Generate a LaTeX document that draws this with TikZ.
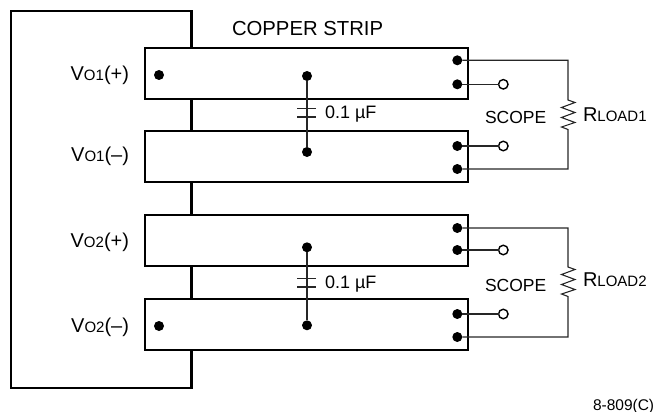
\documentclass[tikz,border=0pt]{standalone}
\usepackage{fontspec}
\setmainfont{Liberation Sans}
\usetikzlibrary{calc}
\newcommand{\sml}[1]{{\fontsize{15}{15}\selectfont #1}}
\tikzset{
  strip/.style={draw=black,fill=white,line width=2.2pt,minimum width=323pt,anchor=north west,inner sep=0pt,outer sep=0pt},
  fatdot/.style={circle,fill=black,minimum size=10pt,inner sep=0pt,outer sep=0pt},
  opendot/.style={circle,draw=black,fill=white,line width=1.4pt,minimum size=9.5pt,inner sep=0pt,outer sep=0pt},
  wire/.style={line width=1.1pt,draw=black!85},
  plate/.style={line width=1.1pt,draw=black!85},
  loopline/.style={line width=2.2pt,draw=black},
  lbl/.style={anchor=base east,inner sep=0pt,outer sep=0pt,font=\fontsize{20}{20}\selectfont},
  txt/.style={anchor=base west,inner sep=0pt,outer sep=0pt}
}
\begin{document}
\begin{tikzpicture}[x=1pt,y=-1pt]
\useasboundingbox (0,0) rectangle (656,412);
% copper loop, running behind the strips
\coordinate (la) at (191.5,60);
\coordinate (lb) at (191.5,11);
\coordinate (lc) at (11,11);
\coordinate (ld) at (11,388);
\coordinate (le) at (191.5,388);
\draw[loopline] (la) -- (lb) -- (lc) -- (ld) -- (le) -- cycle;
% strips
\node[strip,minimum height=51pt] (s1) at (145,47.7) {};
\node[strip,minimum height=51pt] (s2) at (145,131) {};
\node[strip,minimum height=51pt] (s3) at (145,215) {};
\node[strip,minimum height=51pt] (s4) at (145,299) {};
% left dots
\node[fatdot] (d1) at (159,75) {};
\node[fatdot] (d4) at (159,326) {};
% capacitors
\node[fatdot] (c1a) at (307,76) {};
\node[fatdot] (c1b) at (307,152) {};
\node[fatdot] (c2a) at (307,247.3) {};
\node[fatdot] (c2b) at (307,325.3) {};
\draw[wire] (c1a) -- (c1b);
\draw[wire] (c2a) -- (c2b);
\coordinate (p1l) at (297,108.7); \coordinate (p1r) at (316,108.7);
\coordinate (p2l) at (297,117);   \coordinate (p2r) at (316,117);
\coordinate (p3l) at (297,278.7); \coordinate (p3r) at (316,278.7);
\coordinate (p4l) at (297,287);   \coordinate (p4r) at (316,287);
\draw[plate] (p1l) -- (p1r);
\draw[plate] (p2l) -- (p2r);
\draw[plate] (p3l) -- (p3r);
\draw[plate] (p4l) -- (p4r);
% right dots and open terminals
\foreach \n/\y in {a/60.3,b/84.3,c/146,d/169,e/228,f/250,g/314,h/337}{
  \node[fatdot] (r\n) at (457.3,\y) {};
}
\node[opendot] (oa) at (503.3,84.3) {};
\node[opendot] (oc) at (503.3,146) {};
\node[opendot] (of) at (503.3,250) {};
\node[opendot] (og) at (503.3,314) {};
\draw[wire] (rb) -- (oa);
\draw[wire] (rc) -- (oc);
\draw[wire] (rf) -- (of);
\draw[wire] (rg) -- (og);
% load resistors
\coordinate (t1) at (568,60.3);
\coordinate (b1) at (568,169);
\coordinate (t2) at (568,228);
\coordinate (b2) at (568,337);
\draw[wire,line join=miter] (ra) -- (t1) -- (568,100) -- (575,102.5) -- (561.5,107.5) -- (575,112.5) -- (561.5,117.5) -- (575,122.5) -- (561.5,127) -- (568,129.5) -- (b1) -- (rd);
\draw[wire,line join=miter] (re) -- (t2) -- (568,267) -- (575,269.5) -- (561.5,274.5) -- (575,279.5) -- (561.5,284.5) -- (575,289.5) -- (561.5,294) -- (568,296.5) -- (b2) -- (rh);
% labels
\node[lbl] (v1p) at (129,81) {V\sml{O1}(+)};
\node[lbl] (v1m) at (129,161) {V\sml{O1}(–)};
\node[lbl] (v2p) at (129,247) {V\sml{O2}(+)};
\node[lbl] (v2m) at (129,332) {V\sml{O2}(–)};
\node[txt,font=\fontsize{20.3}{20.3}\selectfont] (cs) at (232,36) {COPPER STRIP};
\node[txt,font=\fontsize{18}{18}\selectfont] (cv1) at (325,118) {0.1 µF};
\node[txt,font=\fontsize{18}{18}\selectfont] (cv2) at (325,288.5) {0.1 µF};
\node[txt,font=\fontsize{17.5}{17.5}\selectfont] (sc1) at (485,123.5) {SCOPE};
\node[txt,font=\fontsize{17.5}{17.5}\selectfont] (sc2) at (485,291.5) {SCOPE};
\node[txt,font=\fontsize{20}{20}\selectfont] (rl1) at (583,121.7) {R\sml{LOAD1}};
\node[txt,font=\fontsize{20}{20}\selectfont] (rl2) at (583,286.5) {R\sml{LOAD2}};
\node[txt,font=\fontsize{15.5}{15.5}\selectfont] (fig) at (593,410) {8-809(C)};
\end{tikzpicture}
\end{document}
